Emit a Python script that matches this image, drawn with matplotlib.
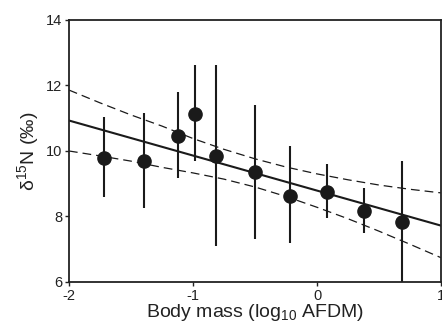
import matplotlib
matplotlib.use("Agg")
import matplotlib.pyplot as plt

plt.rcParams['font.family'] = ['Liberation Sans', 'DejaVu Sans']
plt.rcParams['mathtext.fontset'] = 'custom'
plt.rcParams['mathtext.rm'] = 'Liberation Sans'
plt.rcParams['mathtext.default'] = 'regular'
plt.rcParams['axes.unicode_minus'] = False

# group means with error ranges
body_mass = [-1.716, -1.394, -1.121, -0.981, -0.812, -0.501, -0.222, 0.078, 0.381, 0.681]
d15n_mean = [9.80, 9.68, 10.47, 11.13, 9.86, 9.35, 8.63, 8.76, 8.17, 7.82]
d15n_low = [8.60, 8.25, 9.19, 9.70, 7.10, 7.31, 7.19, 7.94, 7.51, 6.0]
d15n_high = [11.03, 11.15, 11.79, 12.63, 12.63, 11.41, 10.14, 9.60, 8.86, 9.68]

# regression line and confidence band
fit_x = [-2.0, 1.0]
fit_y = [10.93, 7.72]
band_x = [-2.0, -1.75, -1.5, -1.25, -1.0, -0.75, -0.5, -0.25, 0.0, 0.25, 0.5, 0.75, 1.0]
band_upper = [11.86, 11.47, 11.10, 10.76, 10.38, 10.05, 9.76, 9.51, 9.30, 9.12, 8.96, 8.83, 8.72]
band_lower = [10.00, 9.85, 9.69, 9.50, 9.33, 9.14, 8.90, 8.61, 8.28, 7.93, 7.55, 7.15, 6.74]

fig = plt.figure(figsize=(4.42, 3.30), dpi=100)
ax = fig.add_axes([0.156, 0.1455, 0.842, 0.794])

col = '#1a1a1a'
ax.vlines(body_mass, d15n_low, d15n_high, color=col, lw=1.5)
ax.plot(body_mass, d15n_mean, 'o', color=col, ms=9.5, zorder=3)
ax.plot(fit_x, fit_y, color=col, lw=1.5)
ax.plot(band_x, band_upper, color=col, lw=0.9, dashes=(7, 4))
ax.plot(band_x, band_lower, color=col, lw=0.9, dashes=(7, 4))

ax.set_xlim(-2, 1)
ax.set_ylim(6, 14)
ax.set_xticks([-2, -1, 0, 1])
ax.set_yticks([6, 8, 10, 12, 14])
ax.tick_params(direction='out', length=3, width=1, labelsize=10.5, pad=2, colors='#222222')
for s in ax.spines.values():
    s.set_linewidth(1.3)
    s.set_color('#222222')

ax.set_xlabel('Body mass (log$_{10}$ AFDM)', fontsize=14, labelpad=-1, color='#222222')
ax.set_ylabel('δ$^{15}$N (‰)', fontsize=14, labelpad=3, color='#222222')

fig.savefig('out.png', dpi=100)
